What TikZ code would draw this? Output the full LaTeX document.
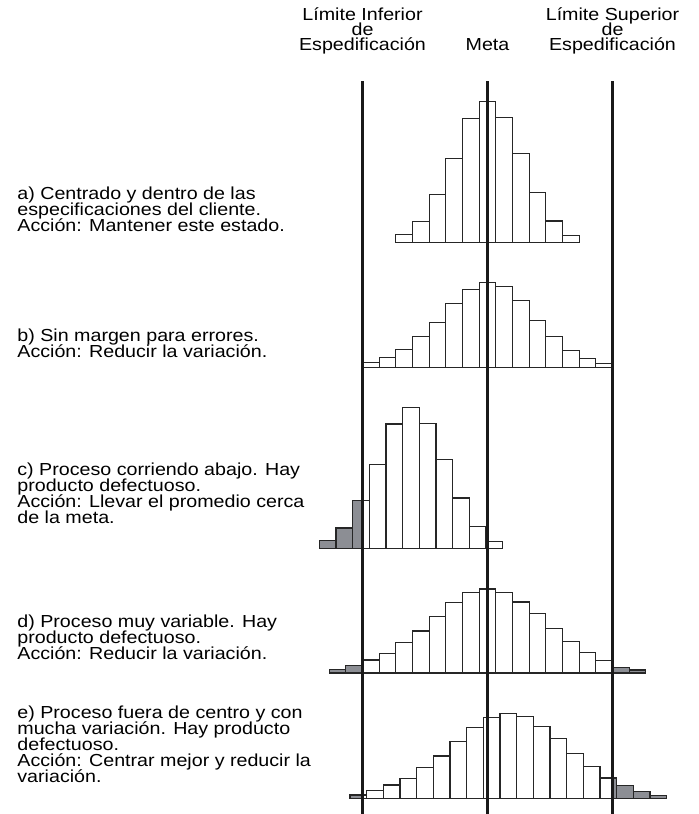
\documentclass[tikz,border=0pt]{standalone}
\usepackage{fontspec}
\setmainfont{Liberation Sans}[FakeStretch=1.13]
\definecolor{defgray}{RGB}{140,142,148}

\def\bw{16.667}   % bar width
\def\lie{362.5}   % lower spec limit
\def\lse{612.5}   % upper spec limit
\def\meta{487.5}  % target

\newcommand{\casefont}{\fontsize{8.7pt}{8pt}\selectfont\lineskiplimit-20pt\relax}
\newcommand{\headfont}{\fontsize{8.7pt}{7.3pt}\selectfont\lineskiplimit-20pt\relax}

\tikzset{
  bar/.style={draw=black!85, fill=white, line width=0.6pt},
  speclim/.style={black!90, line width=1.1pt},
  txt/.style={anchor=base west, align=left, inner sep=0pt, font=\casefont},
  head/.style={anchor=base, align=center, inner sep=0pt, font=\headfont}
}

% histogram: left x, baseline y, bar heights
\newcommand{\histo}[3]{%
  \foreach \h [count=\i from 0] in {#3}
    \draw[bar] ({#1+\i*\bw},#2) rectangle ++(\bw,-\h);
  \begin{scope}
    \clip (0,0) rectangle (\lie,814) (\lse,0) rectangle (698,814);
    \foreach \h [count=\i from 0] in {#3}
      \draw[bar, fill=defgray] ({#1+\i*\bw},#2) rectangle ++(\bw,-\h);
  \end{scope}}

\begin{document}
\begin{tikzpicture}[x=0.5pt, y=-0.5pt]
    \useasboundingbox (0,0) rectangle (698,814);

    % Headers (placed at the last line)
    \node[head] (lieh) at (\lie,50) {Límite Inferior\\de\\Espedificación};
    \node[head] (metah) at (\meta,50) {Meta};
    \node[head] (lseh) at (\lse,50) {Límite Superior\\de\\Espedificación};

    % Cases (placed at the last line)
    \node[txt] (ta) at (17,231) {a) Centrado y dentro de las\\especificaciones del cliente.\\Acción: Mantener este estado.};
    \node[txt] (tb) at (17,357.5) {b) Sin margen para errores.\\Acción: Reducir la variación.};
    \node[txt] (tc) at (17,523.5) {c) Proceso corriendo abajo. Hay\\producto defectuoso.\\Acción: Llevar el promedio cerca\\de la meta.};
    \node[txt] (td) at (17,659) {d) Proceso muy variable. Hay\\producto defectuoso.\\Acción: Reducir la variación.};
    \node[txt] (te) at (17,782) {e) Proceso fuera de centro y con\\mucha variación. Hay producto\\defectuoso.\\Acción: Centrar mejor y reducir la\\variación.};

    % Histograms
    \histo{395.83}{242.3}{8,20.7,48,83.7,124,141,125,89,50,21.3,7}
    \histo{\lie}{367.3}{5,9.7,18,30.7,45,64,78,85,80.7,67,47,30.7,17,8.7,4}
    \histo{319.3}{548.3}{8,20.3,48,83.7,124.3,140.7,125,88.7,50.3,21.7,7}
    \histo{329.17}{673}{3.3,7.7,13,19.3,30.7,42,56.3,70.7,80.3,84,80.7,71,59.7,44.3,31.7,20.7,12.3,5.7,3}
    \histo{350}{798.3}{3.3,8,13.3,19.7,30.7,42.3,56.7,71,80.7,84.7,81.7,71.7,59.7,45,32,20.3,12.7,6.7,3}

    % Spec lines and target
    \coordinate (lieT) at (\lie,81);   \coordinate (lieB) at (\lie,814);
    \coordinate (metaT) at (\meta,81); \coordinate (metaB) at (\meta,814);
    \coordinate (lseT) at (\lse,81);   \coordinate (lseB) at (\lse,814);
    \foreach \p in {lie,meta,lse} \draw[speclim] (\p T) -- (\p B);
\end{tikzpicture}
\end{document}
